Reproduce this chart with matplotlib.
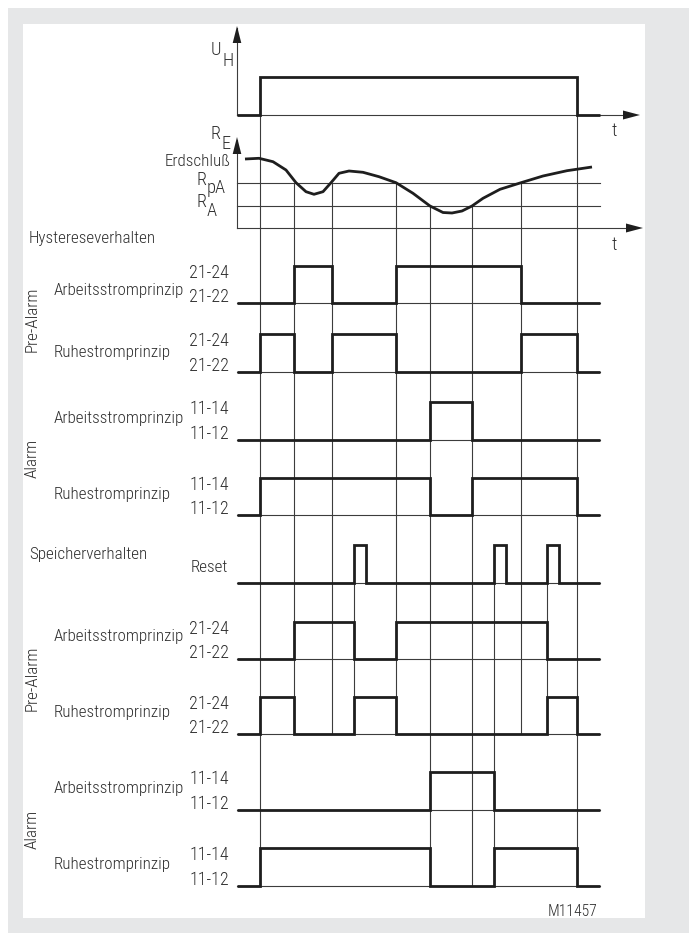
import matplotlib
matplotlib.use("Agg")
import matplotlib.pyplot as plt
from matplotlib.patches import Rectangle, Polygon
from matplotlib.font_manager import FontProperties, fontManager
from matplotlib.textpath import TextPath

# ---------------- data ----------------
# time positions of events (horizontal frame units)
T_START, T_END = 237, 600
T_ON, T_OFF = 260, 577
T_CROSS_PA_DOWN1 = 294
T_CROSS_PA_UP1 = 332
T_CROSS_PA_DOWN2 = 396
T_CROSS_A_DOWN = 430
T_CROSS_A_UP = 472
T_CROSS_PA_UP2 = 521
RESET_STARTS = [354, 494, 547]
RESET_WIDTH = 12

# earth-resistance curve R_E(t) (t, level)
curve_t = [245, 259, 273, 286, 296, 306, 314, 323, 331, 339, 349, 363, 379, 396,
           413, 430, 443, 452, 462, 472, 483, 500, 521, 543, 567, 592]
curve_y = [159, 158.3, 161.7, 170, 182.7, 191.7, 194.3, 191.7, 182.7, 173.3, 171,
           172.3, 176.7, 182.7, 193.3, 206, 212.5, 213, 211, 206, 198.3, 189.3,
           182.7, 176, 170.7, 167]

# signals: (start level, edge times)
uh_edges = [T_ON, T_OFF]
hyst_signals = [
    (0, [T_CROSS_PA_DOWN1, T_CROSS_PA_UP1, T_CROSS_PA_DOWN2, T_CROSS_PA_UP2]),
    (0, [T_ON, T_CROSS_PA_DOWN1, T_CROSS_PA_UP1, T_CROSS_PA_DOWN2, T_CROSS_PA_UP2, T_OFF]),
    (0, [T_CROSS_A_DOWN, T_CROSS_A_UP]),
    (0, [T_ON, T_CROSS_A_DOWN, T_CROSS_A_UP, T_OFF]),
]
reset_edges = [e for s in RESET_STARTS for e in (s, s + RESET_WIDTH)]
mem_signals = [
    (0, [T_CROSS_PA_DOWN1, RESET_STARTS[0], T_CROSS_PA_DOWN2, RESET_STARTS[2]]),
    (0, [T_ON, T_CROSS_PA_DOWN1, RESET_STARTS[0], T_CROSS_PA_DOWN2, RESET_STARTS[2], T_OFF]),
    (0, [T_CROSS_A_DOWN, RESET_STARTS[1]]),
    (0, [T_ON, T_CROSS_A_DOWN, RESET_STARTS[1], T_OFF]),
]
principles = ["Arbeitsstromprinzip", "Ruhestromprinzip",
              "Arbeitsstromprinzip", "Ruhestromprinzip"]
contacts = [("21-24", "21-22"), ("21-24", "21-22"),
            ("11-14", "11-12"), ("11-14", "11-12")]
groups = ["Pre-Alarm", "Alarm"]

# ---------------- font choice (narrowest available, light preferred) ----------------
def _wnum(w):
    table = {'light': 300, 'normal': 400, 'regular': 400, 'book': 400, 'medium': 500}
    try:
        return int(w)
    except (TypeError, ValueError):
        return table.get(str(w), 700)


def pick_font():
    prefs = ['Liberation Sans Narrow', 'Roboto Condensed', 'Open Sans Condensed',
             'DejaVu Sans']
    cands = []
    for f in fontManager.ttflist:
        narrow = ('Narrow' in f.name or 'Condensed' in f.name
                  or str(f.stretch) in ('condensed', 'semi-condensed', 'extra-condensed'))
        if narrow and f.style == 'normal' and _wnum(f.weight) in (300, 400):
            cands.append(f)
    for p in prefs:
        fam = [f for f in cands if f.name == p]
        if fam:
            fam.sort(key=lambda f: _wnum(f.weight))
            return FontProperties(fname=fam[0].fname)
    if cands:
        cands.sort(key=lambda f: _wnum(f.weight))
        return FontProperties(fname=cands[0].fname)
    return FontProperties(family='Roboto')


BASE_FP = pick_font()


def fit_size(s, px, cap):
    w = TextPath((0, 0), s, size=10, prop=BASE_FP).get_extents().width
    return min(cap, px / (w / 10 * 100 / 72))


FS = fit_size("Arbeitsstromprinzip", 129.0, 12.5)
FS_PIN = fit_size("21-24", 40.0, 13.0)


def fp(size):
    p = BASE_FP.copy()
    p.set_size(size)
    return p

# ---------------- layout ----------------
W, H = 689, 933
TXT = '#2e2e2e'
THIN = dict(color='#3c3c3c', lw=0.8)
THICK = dict(color='#1e1e1e', lw=2.0, solid_joinstyle='miter', solid_capstyle='butt')

hyst_rows = [(303, 266), (372, 334), (440, 402), (515, 478)]
mem_rows = [(659, 622), (734, 697), (810, 772), (886, 848)]
reset_row = (583, 545)
hyst_text_y = [291, 352, 419, 495]
mem_text_y = [637, 713, 789, 865]
UH_ROW = (115, 77)
Y_RPA, Y_RA, Y_RE_AX = 183, 206, 228

fig = plt.figure(figsize=(W / 100, H / 100), dpi=100)
fig.patch.set_facecolor('white')
ax = fig.add_axes([0, 0, 1, 1])
ax.set_xlim(0, W)
ax.set_ylim(H, 0)
ax.axis('off')

ax.add_patch(Rectangle((8, 8), W - 8, H - 8, facecolor='#e6e7e8', edgecolor='none', zorder=0))
ax.add_patch(Rectangle((22.5, 24), 645 - 22.5, 918 - 24, facecolor='white', edgecolor='none', zorder=0.5))


def text(x, y, s, ha='left', size=None, **kw):
    ax.text(x, y, s, ha=ha, va='center', fontproperties=fp(size or FS), color=TXT, **kw)


def step(row, start, edges, t0=T_START, t1=T_END):
    low, high = row
    ts = [t0] + list(edges) + [t1]
    lv = [start]
    for _ in edges:
        lv.append(1 - lv[-1])
    lv.append(lv[-1])
    ys = [high if v else low for v in lv]
    ax.step(ts, ys, where='post', zorder=3, **THICK)


def arrow_up(x, y_tip):
    ax.add_patch(Polygon([(x - 4.3, y_tip + 17), (x + 4.3, y_tip + 17), (x, y_tip)],
                         closed=True, color='#1e1e1e', lw=0, zorder=4))


def arrow_right(x_tip, y):
    ax.add_patch(Polygon([(x_tip - 17, y - 4.5), (x_tip - 17, y + 4.5), (x_tip, y)],
                         closed=True, color='#1e1e1e', lw=0, zorder=4))


SUB = FS_PIN * 1.02

# U_H axis
ax.plot([T_START, T_START], [UH_ROW[0], 28], **THIN)
arrow_up(T_START, 26)
ax.plot([T_START, 630], [UH_ROW[0], UH_ROW[0]], **THIN)
arrow_right(640, UH_ROW[0])
step(UH_ROW, 0, uh_edges)
text(216, 50, "U", ha='center', size=SUB)
text(228, 61, "H", ha='center', size=SUB)
text(614, 131, "t", ha='center', size=SUB)

# R_E axis
ax.plot([T_START, T_START], [Y_RE_AX, 140], **THIN)
arrow_up(T_START, 137)
ax.plot([T_START, 633], [Y_RE_AX, Y_RE_AX], **THIN)
arrow_right(643, Y_RE_AX)
ax.plot([T_START, T_END], [Y_RPA, Y_RPA], **THIN)
ax.plot([T_START, T_END], [Y_RA, Y_RA], **THIN)
ax.plot(curve_t, curve_y, color='#1e1e1e', lw=2.0, solid_joinstyle='round',
        solid_capstyle='butt', zorder=3)
text(216, 134, "R", ha='center', size=SUB)
text(226, 144, "E", ha='center', size=SUB)
text(231, 162, "Erdschluß", ha='right')
text(201, 180, "R", ha='center', size=SUB)
text(216, 188, "pA", ha='center', size=SUB)
text(201, 202, "R", ha='center', size=SUB)
text(212, 211, "A", ha='center', size=SUB)
text(614, 245, "t", ha='center', size=SUB)

# vertical guide lines (event, y from, y to)
vlines = [
    (T_ON, UH_ROW[1], mem_rows[3][0]),
    (T_CROSS_PA_DOWN1, Y_RPA, mem_rows[1][0]),
    (T_CROSS_PA_UP1, Y_RPA, mem_rows[1][0]),
    (T_CROSS_PA_DOWN2, Y_RPA, mem_rows[1][0]),
    (T_CROSS_A_DOWN, Y_RA, mem_rows[3][0]),
    (T_CROSS_A_UP, Y_RA, mem_rows[3][0]),
    (T_CROSS_PA_UP2, Y_RPA, mem_rows[1][0]),
    (T_OFF, UH_ROW[1], mem_rows[3][0]),
    (RESET_STARTS[0], reset_row[0], mem_rows[1][0]),
    (RESET_STARTS[1], reset_row[0], mem_rows[3][0]),
    (RESET_STARTS[2], reset_row[0], mem_rows[1][0]),
]
for x, y0, y1 in vlines:
    ax.plot([x, x], [y0, y1], zorder=2, **THIN)

# section labels
text(29, 238, "Hystereseverhalten")
text(29, 555, "Speicherverhalten")


def block(rows, sigs, text_ys):
    for i, (row, (start, edges)) in enumerate(zip(rows, sigs)):
        low, high = row
        ax.plot([T_START, T_END], [low, low], zorder=2, **THIN)
        step(row, start, edges)
        text(229, high + 7, contacts[i][0], ha='right', size=FS_PIN)
        text(229, low - 6, contacts[i][1], ha='right', size=FS_PIN)
        text(54, text_ys[i], principles[i])
    for g, name in enumerate(groups):
        yc = (rows[2 * g][1] + rows[2 * g + 1][0]) / 2
        ax.text(32, yc, name, rotation=90, ha='center', va='center',
                fontproperties=fp(FS), color=TXT)


block(hyst_rows, hyst_signals, hyst_text_y)

# reset row
ax.plot([T_START, T_END], [reset_row[0], reset_row[0]], zorder=2, **THIN)
step(reset_row, 0, reset_edges)
text(228, 567, "Reset", ha='right')

block(mem_rows, mem_signals, mem_text_y)

text(597, 911, "M11457", ha='right', size=FS * 0.92)

fig.savefig("out.png", dpi=100, facecolor=fig.get_facecolor())
